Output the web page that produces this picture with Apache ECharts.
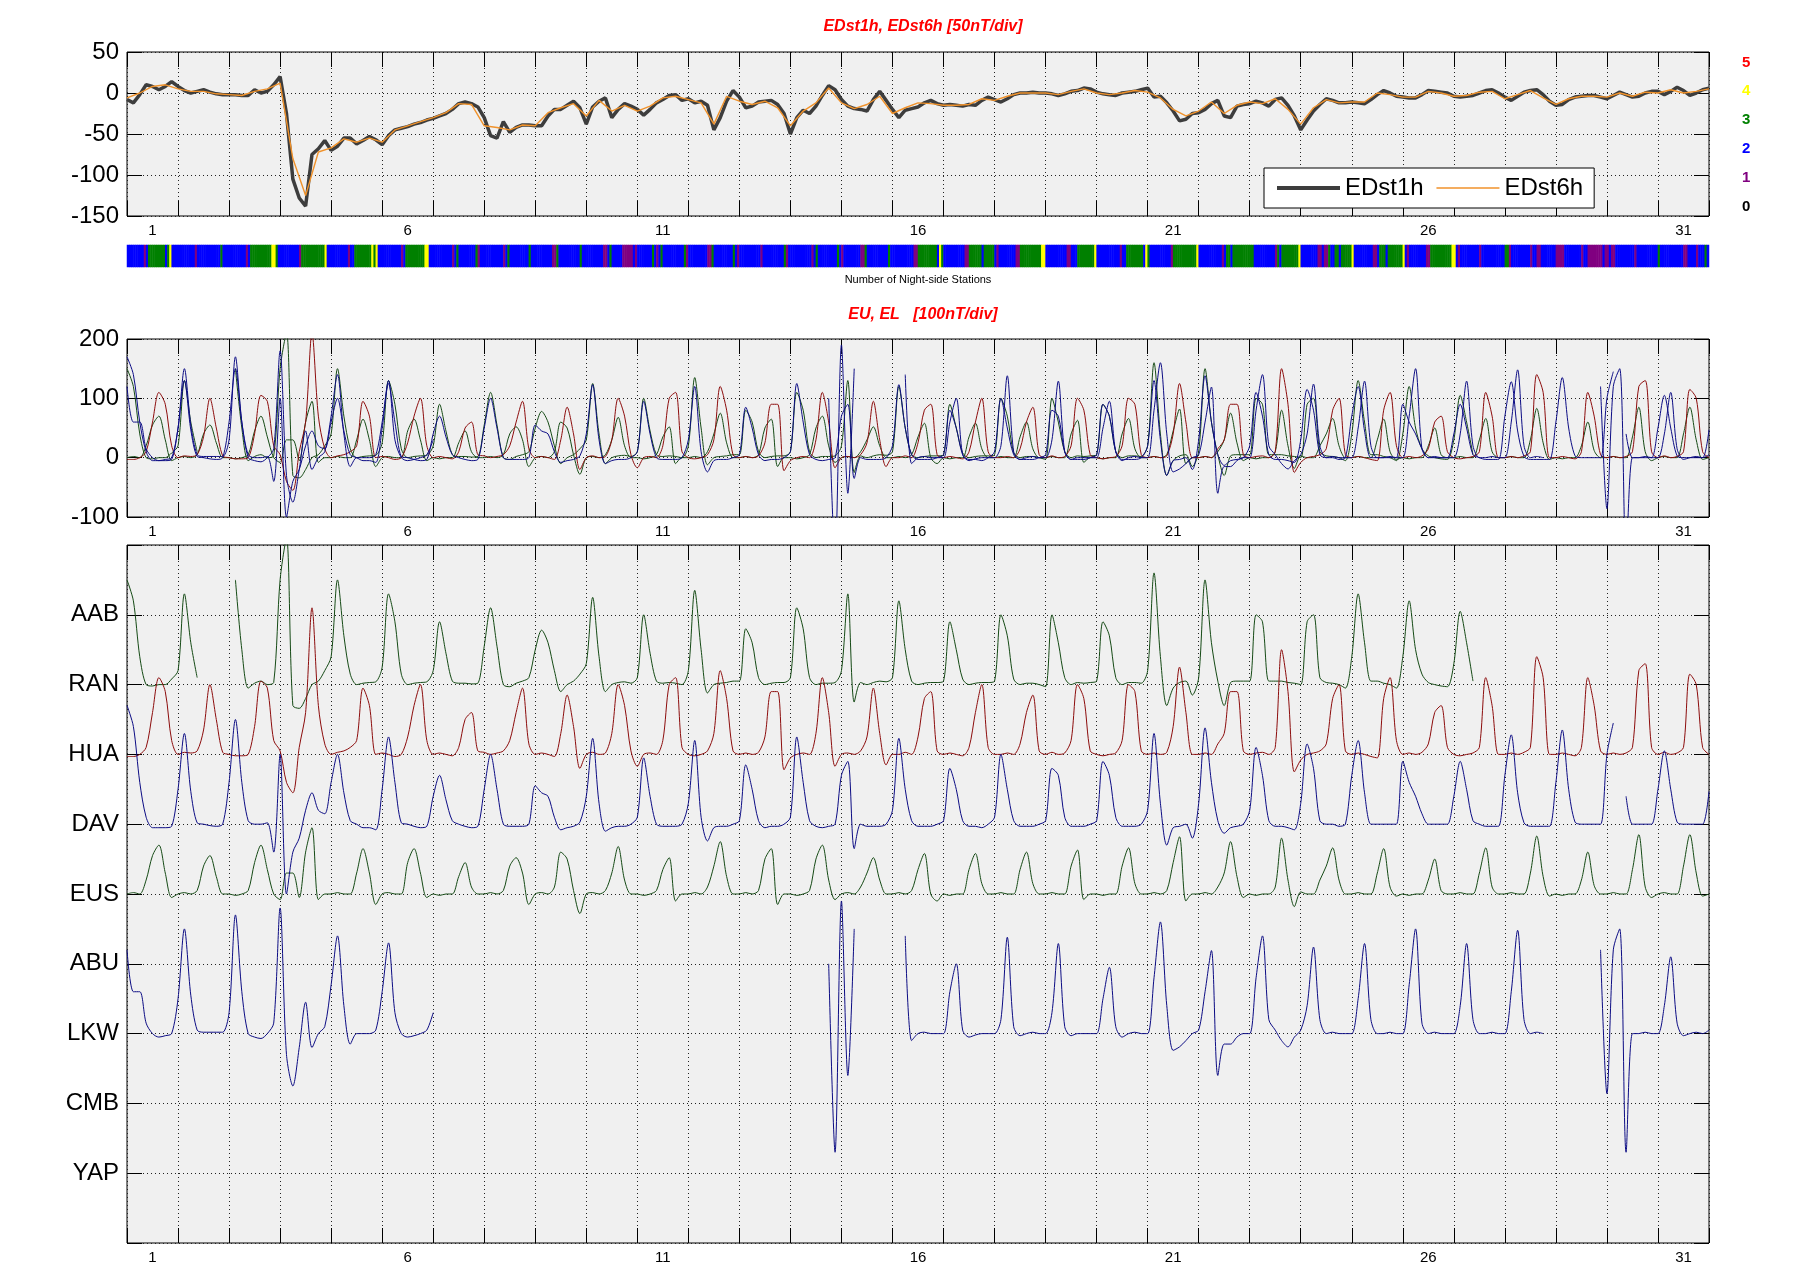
<!DOCTYPE html>
<html>
<head>
<meta charset="utf-8" />
<title>EDst / EU EL</title>
<script type="text/javascript" src="https://cdn.jsdelivr.net/npm/echarts@6/dist/echarts.min.js"></script>
<style>
html, body { margin: 0; padding: 0; background: #fff; }
#chartmain { width: 1801px; height: 1268px; }
</style>
</head>
<body>
<div id="chartmain"></div>
<script type="text/javascript">
// tick labels
var dayLabels = ['1','2','3','4','5','6','7','8','9','10','11','12','13','14','15','16',
  '17','18','19','20','21','22','23','24','25','26','27','28','29','30','31'];
var stationLabels = ['YAP', 'CMB', 'LKW', 'ABU', 'EUS', 'DAV', 'HUA', 'RAN', 'AAB']; // levels 1..9
var countLabels = ['0', '1', '2', '3', '4', '5'];
var countColors = ['#000000', '#800080', '#0000ff', '#008000', '#ffff00', '#ff0000'];

// EDst1h, every 3 hours (8 per day) + end point
var edst1h = [
  -8, -12, -2, 10, 8, 4, 8, 14,
  8, 3, 0, 2, 4, 1, -1, -2,
  -2, -2, -3, -3, 4, 0, 2, 10,
  20, -25, -105, -128, -138, -75, -68, -58,
  -70, -65, -55, -55, -62, -58, -53, -57,
  -63, -52, -45, -43, -41, -38, -36, -33,
  -31, -28, -25, -20, -13, -11, -13, -17,
  -30, -52, -55, -35, -48, -42, -39, -39,
  -40, -40, -28, -20, -20, -15, -10, -18,
  -38, -17, -10, -6, -30, -20, -13, -16,
  -20, -27, -20, -12, -8, -3, -2, -9,
  -7, -12, -10, -15, -45, -30, -10, 3,
  -5, -18, -16, -11, -10, -9, -14, -25,
  -50, -30, -21, -25, -16, -3, 9, 4,
  -8, -16, -19, -20, -22, -8, 2, -9,
  -20, -30, -21, -19, -17, -12, -9, -13,
  -15, -14, -15, -16, -14, -15, -9, -5,
  -8, -11, -7, -2, 0, 0, 1, 0,
  0, -1, -3, -1, 2, 3, 6, 5,
  1, -1, -2, -3, 0, 1, 2, 4,
  6, -5, -4, -12, -22, -34, -32, -25,
  -24, -20, -13, -9, -28, -30, -16, -14,
  -13, -10, -12, -16, -8, -6, -15, -28,
  -45, -33, -22, -14, -7, -9, -12, -12,
  -11, -12, -13, -8, -2, 3, 0, -4,
  -5, -6, -6, -2, 3, 2, 1, 0,
  -4, -5, -4, -3, 0, 3, 4, 0,
  -5, -9, -4, 1, 3, 4, -2, -10,
  -15, -14, -8, -5, -4, -3, -3, -5,
  -7, -3, 1, -2, -5, -4, 0, 2,
  2, -2, 2, 7, 3, -3, 0, 4,
  6
];

// EDst6h, every 6 hours (4 per day) + end point
var edst6h = [
  -6, 0, 8, 10,   5, 2, 2, -1,   -2, -3, 2, 5,   12, -80, -125, -72,
  -67, -56, -60, -55,   -60, -45, -40, -35,   -30, -24, -13, -14,   -40, -42, -45, -39,
  -40, -24, -18, -13,   -28, -9, -22, -15,   -22, -16, -6, -4,   -8, -12, -38, -4,
  -10, -14, -10, -18,   -40, -22, -12, 6,   -12, -19, -14, -4,   -25, -18, -12, -13,
  -15, -15, -14, -7,   -9, -4, 0, 0,   0, -2, 2, 5,   0, -2, 0, 3,
  1, -6, -20, -28,   -22, -11, -25, -15,   -11, -13, -7, -20,   -38, -18, -8, -12,
  -11, -11, 0, -2,   -5, -5, 2, 0,   -4, -3, 1, 2,   -7, -2, 3, -6,
  -14, -7, -4, -4,   -5, 0, -4, 1,   0, 4, 0, 2,
  5
];

// number of night-side stations: [startHour, endHour, count]; other hours = nightDefault
var nightDefault = 2;
var nightRuns = [
  [8,9,1],[10,20,3],[18,19,2],[20,21,4],[32,33,1],[44,45,3],[56,57,1],[58,68,3],[68,70,4],[70,71,3],
  [81,82,1],[82,93,3],[93,94,4],[104,105,1],[107,115,3],[115,116,4],[116,117,3],[117,118,4],
  [129,130,1],[131,140,3],[140,142,4],[153,154,1],[155,156,3],[164,165,3],[165,166,1],[177,178,1],
  [179,180,3],[189,190,3],[200,202,1],[202,203,3],[213,214,3],[224,226,1],[227,228,3],[233,238,1],
  [239,240,1],[247,248,3],[249,250,1],[251,252,3],[262,263,3],[263,264,1],[273,275,1],[275,276,3],
  [285,286,3],[287,288,1],[298,299,1],[309,310,3],[310,311,1],[322,323,1],[324,325,3],[334,335,3],
  [336,337,1],[345,347,1],[347,348,3],[358,359,3],[370,372,1],[372,381,3],[382,383,4],[383,384,3],
  [394,396,1],[396,408,3],[402,403,2],[409,410,1],[418,420,1],[420,430,3],[430,432,4],[442,444,1],
  [447,455,3],[455,456,4],[467,468,1],[470,478,3],[479,480,4],[480,481,3],[491,492,1],[492,501,3],
  [501,503,3],[503,504,4],[515,516,1],[517,519,3],[520,530,3],[540,541,1],[541,542,3],[543,551,3],
  [551,552,4],[560,562,1],[563,565,1],[565,566,3],[568,570,3],[571,576,3],[576,577,4],[586,588,1],
  [589,592,3],[593,600,3],[600,601,4],[602,603,1],[611,613,1],[613,623,3],[623,625,4],[626,627,1],
  [636,637,1],[648,650,3],[650,651,1],[660,661,1],[663,665,1],[672,676,1],[684,685,1],[687,694,1],
  [695,697,1],[698,700,1],[709,710,1],[720,721,3],[732,734,1],[738,739,1],[742,743,3]
];

// station traces in nT above their baseline, every 3 hours + end point
var traceAAB = [
  150, 120, 40, 0, -2, 0, 0, 8,
  20, 130, 60, 10, null, null, null, null,
  null, 150, 50, -5, 2, 5, 0, 3,
  150, 210, -30, -34, -20, 0, 5, 20,
  40, 150, 70, 15, 0, 2, 3, 4,
  25, 130, 90, 15, 0, 2, 3, 4,
  20, 90, 45, 5, 2, 2, 1, 2,
  55, 110, 55, 0, -3, 2, 5, 10,
  50, 78, 60, 20, -10, 0, 5, 15,
  30, 125, 40, -10, 0, 3, 4, 2,
  10, 100, 45, 5, 2, 3, 2, 0,
  20, 135, 50, -12, 0, 2, 3, 5,
  5, 80, 60, 10, 0, 2, 3, 3,
  10, 110, 80, 10, 0, 2, 2, 3,
  20, 130, -25, 3, 0, 3, 5, 4,
  10, 120, 50, 5, 0, 2, 3, 3,
  5, 90, 50, 8, 0, 2, 3, 3,
  5, 100, 70, 8, 0, 2, 2, 0,
  -3, 100, 60, 10, 0, 3, 2, 3,
  5, 90, 70, 10, 0, 3, 3, 2,
  20, 160, 40, -30, -5, 3, 5, -15,
  10, 150, 60, 5, -30, 3, 5, 5,
  5, 100, 90, 5, 5, 5, 3, 2,
  0, 90, 100, 10, 3, 2, 0, -5,
  40, 130, 60, 5, 5, 2, 0, -5,
  40, 120, 50, 15, 3, 0, -2, -3,
  30, 105, 60, 5, null, null, null, null,
  null, null, null, null, null, null, null, null,
  null, null, null, null, null, null, null, null,
  null, null, null, null, null, null, null, null,
  null, null, null, null, null, null, null, null,
  null
];
var traceRAN = [
  -3, -3, 0, 10, 60, 110, 90, 20,
  0, 3, 2, 5, 35, 100, 50, 3,
  0, -2, -2, 0, 40, 105, 95, 20,
  5, -40, -55, 10, 60, 210, 70, 15,
  0, 3, 5, 10, 20, 95, 70, 0,
  2, 0, -3, 0, 25, 70, 100, 20,
  0, 2, 0, -2, 10, 50, 60, 5,
  3, 0, 2, 5, 20, 60, 95, 15,
  0, 2, 0, -3, 30, 85, 40, -20,
  0, 3, 0, 2, 30, 100, 70, 5,
  -17, 0, 2, 0, 20, 100, 110, 10,
  0, -2, 0, 5, 30, 120, 80, 5,
  0, 2, 0, 3, 25, 90, 90, -22,
  -5, 0, 2, 0, 30, 110, 60, -17,
  0, 2, 0, 5, 25, 95, 30, -15,
  0, 0, 3, 0, 25, 80, 90, 5,
  0, 2, 0, -2, 10, 60, 100, 10,
  0, 0, 2, 0, 15, 60, 85, 5,
  0, 3, 0, 2, 20, 100, 80, 5,
  0, -2, 0, 2, 20, 100, 90, 5,
  0, 2, 0, 3, 40, 125, 60, 0,
  0, 2, 0, 15, 30, 90, 90, 5,
  0, 2, 3, 0, 10, 150, 90, -25,
  -8, 0, 2, 5, 15, 80, 100, 5,
  0, 2, 0, -3, -5, 80, 110, 20,
  0, 2, 0, 3, 15, 60, 70, 10,
  0, -2, 0, 2, 10, 110, 70, 0,
  0, 2, 0, 3, 10, 140, 110, 0,
  0, 2, 0, -2, 10, 110, 70, 5,
  0, 2, 0, 2, 10, 120, 130, 10,
  0, 3, 0, 2, 10, 115, 100, 10,
  0
];
var traceHUA = [
  170, 140, 60, 10, -5, -5, -5, -3,
  50, 130, 47, 2, 0, -2, -3, 0,
  60, 150, 60, 5, 0, 0, 2, -40,
  100, -100, -40, -20, 20, 45, 20, 15,
  60, 100, 45, 5, 0, -5, -5, -8,
  50, 125, 60, 2, 0, -3, -5, -3,
  40, 70, 35, 5, 0, -3, -5, -3,
  50, 100, 50, 0, -3, -3, -3, 0,
  55, 45, 40, 10, -8, -5, -3, 3,
  40, 123, 30, -10, -5, -3, -3, 0,
  10, 95, 40, 0, -3, -3, -3, 0,
  30, 120, 10, -24, -5, -3, -3, 0,
  5, 85, 50, 5, -5, -3, -3, 0,
  10, 125, 60, 5, -3, -5, -3, 0,
  70, 90, -35, 0, -3, -3, -3, 0,
  20, 123, 50, 5, -3, -3, -3, 0,
  5, 80, 50, 5, -3, -3, -5, 0,
  10, 100, 50, 5, -3, -3, -3, 0,
  5, 80, 70, 10, -3, -3, -3, 0,
  5, 90, 70, 10, -3, -3, -3, 0,
  20, 130, 30, -30, -5, -3, 0, -20,
  30, 138, 60, 5, -13, -5, -3, 0,
  20, 110, 70, 5, -3, -3, -5, -8,
  30, 115, 80, 5, 0, 0, -3, 0,
  70, 120, 45, 0, 0, 0, 0, 0,
  90, 60, 40, 15, 0, 0, 0, 0,
  40, 90, 50, 5, 0, -3, -3, -3,
  70, 128, 45, 2, -3, -3, -3, -3,
  60, 135, 50, 3, 0, 0, 0, 0,
  100, 145, null, 40, 0, 0, 0, 0,
  50, 105, 50, 3, 0, 0, 0, 0,
  47
];
var traceDAV = [
  0, 2, 0, 20, 55, 70, 30, -5,
  0, 2, 0, 5, 40, 55, 25, 0,
  0, -2, 0, 5, 45, 70, 35, 0,
  -8, 30, 30, -5, 60, 95, -8, 0,
  0, 2, 0, 0, 30, 65, 30, -15,
  0, 2, 0, 0, 45, 65, 30, -5,
  0, -2, 0, 0, 25, 45, 10, 0,
  0, 2, 0, 5, 40, 52, 30, -15,
  0, 2, 0, 10, 60, 50, 5, -28,
  0, 2, 0, 5, 30, 68, 20, 0,
  0, -2, 0, 5, 35, 52, -10, 0,
  0, 2, 0, 10, 40, 75, 25, 0,
  0, 2, 0, 5, 50, 65, -15, 0,
  0, -2, 0, 5, 50, 70, 20, -8,
  0, 2, 0, 10, 30, 52, 20, 0,
  0, 2, 0, 5, 35, 58, 0, -10,
  0, -2, 0, 0, 35, 58, 15, 0,
  0, 2, 0, 0, 35, 60, 15, 0,
  0, 2, 0, 0, 40, 63, -8, 0,
  0, -2, 0, 0, 40, 66, 15, 0,
  0, 2, 0, 5, 45, 82, -10, 0,
  0, 2, 0, 10, 30, 75, 25, -5,
  0, -2, 0, 0, 10, 80, 20, -18,
  3, 0, 0, 20, 40, 66, 20, 0,
  0, 2, 0, 0, 30, 65, 10, -3,
  0, -2, 0, 0, 20, 50, 5, 0,
  0, 2, 0, 0, 30, 66, 10, 0,
  0, 2, 0, 0, 30, 83, 25, -3,
  0, -2, 0, 0, 20, 60, 12, 0,
  0, 2, 0, 0, 35, 85, 10, -5,
  0, 2, 0, 0, 40, 85, 30, -3,
  0
];
var traceLKW = [
  120, 60, 60, 15, 0, -5, -3, 0,
  50, 150, 55, 5, 2, 2, 2, 2,
  30, 170, 60, 0, -5, -7, 0, 15,
  180, -30, -75, -20, 45, -20, 0, 10,
  70, 140, 40, -15, 0, 0, 0, 5,
  60, 130, 30, 0, -5, -3, 0, 5,
  30, null, null, null, null, null, null, null,
  null, null, null, null, null, null, null, null,
  null, null, null, null, null, null, null, null,
  null, null, null, null, null, null, null, null,
  null, null, null, null, null, null, null, null,
  null, null, null, null, null, null, null, null,
  null, null, null, null, null, null, null, null,
  null, null, null, null, null, null, 100, -170,
  190, -60, 150, null, null, null, null, null,
  null, null, 140, -10, 0, 2, 0, 0,
  0, 60, 100, 5, -5, -2, 0, 0,
  0, 20, 138, 10, -3, 0, 2, 0,
  0, 30, 129, 10, -3, 0, 0, 0,
  0, 50, 95, 10, -5, 0, 2, 0,
  0, 80, 160, 40, -24, -19, -10, 0,
  5, 60, 119, -60, -15, -15, -5, 0,
  0, 80, 140, 20, 5, -10, -19, -5,
  5, 40, 124, 20, 0, 2, 0, 0,
  0, 50, 129, 20, 0, 0, 2, 0,
  0, 70, 150, 15, 0, 2, 0, 0,
  0, 40, 129, 20, 0, 0, 2, 0,
  0, 60, 148, 20, 0, 2, 0, null,
  null, null, null, null, null, null, null, 120,
  -86, 120, 150, -170, 0, 0, 2, 0,
  0, 40, 110, 15, -3, 0, 2, 0,
  5
];

// ---- tables built from the arrays above ----
function pairs(values, perDay) {
  return values.map(function (v, i) { return [i / perDay, v === null ? '-' : v]; });
}
function stacked(values, base) {
  return values.map(function (v, i) { return [i / 8, v === null ? '-' : base + v / 100]; });
}
var nightCount = [];
for (var h = 0; h < 744; h++) nightCount.push(nightDefault);
nightRuns.forEach(function (r) {
  for (var k = r[0]; k < r[1]; k++) nightCount[k] = r[2];
});
var hourCats = nightCount.map(function (c, i) { return String(i); });
var heatData = nightCount.map(function (c, i) { return [i, 0, c]; });

var green = '#154a15', red = '#8c0c0c', blue = '#0c0c84';
var traces = [
  { name: 'DAV', data: traceDAV, base: 5, color: green },
  { name: 'AAB', data: traceAAB, base: 8, color: green },
  { name: 'RAN', data: traceRAN, base: 7, color: red },
  { name: 'HUA', data: traceHUA, base: 6, color: blue },
  { name: 'LKW', data: traceLKW, base: 3, color: blue }
];

var font = 'Liberation Sans, Arial, Helvetica, sans-serif';
var gridBox = { show: true, backgroundColor: '#f0f0f0', borderColor: '#000', borderWidth: 1 };
var L = 127, W = 1582;

function dayAxis(grid, pos, split) {
  return {
    type: 'value', gridIndex: grid, position: pos, min: 0, max: 31, interval: 1,
    axisLine: { show: false, onZero: false },
    axisTick: { show: true, inside: true, length: 15, lineStyle: { color: '#000' } },
    axisLabel: { show: false },
    splitLine: { show: split, lineStyle: { color: '#222', type: [1, 3] } }
  };
}
function labelAxis(grid) {
  return {
    type: 'category', gridIndex: grid, position: 'bottom', data: dayLabels, boundaryGap: true,
    axisLine: { show: false, onZero: false }, axisTick: { show: false }, splitLine: { show: false },
    axisLabel: { interval: 4, fontSize: 15, color: '#000', margin: 7, fontFamily: font }
  };
}
function valAxis(grid, pos, min, max, step, labels, fmt) {
  return {
    type: 'value', gridIndex: grid, position: pos, min: min, max: max, interval: step,
    axisLine: { show: false, onZero: false },
    axisTick: { show: true, inside: true, length: 15, lineStyle: { color: '#000' } },
    axisLabel: { show: labels, fontSize: 24, color: '#000', margin: 8, fontFamily: font, formatter: fmt },
    splitLine: { show: labels, lineStyle: { color: '#222', type: [1, 3] } }
  };
}

var series = [
  { name: 'EDst1h', type: 'line', xAxisIndex: 0, yAxisIndex: 0, data: pairs(edst1h, 8),
    symbol: 'none', lineStyle: { color: '#3d3d3d', width: 3.5 }, itemStyle: { color: '#3d3d3d' } },
  { name: 'EDst6h', type: 'line', xAxisIndex: 0, yAxisIndex: 0, data: pairs(edst6h, 4),
    symbol: 'none', lineStyle: { color: '#f0922b', width: 1.4 }, itemStyle: { color: '#f0922b' } },
  { name: 'stations', type: 'heatmap', xAxisIndex: 3, yAxisIndex: 2, data: heatData }
];
traces.forEach(function (t) {
  series.push({ name: t.name + ' EU', type: 'line', xAxisIndex: 4, yAxisIndex: 3,
    data: pairs(t.data, 8), symbol: 'none', smooth: 0.3, lineStyle: { color: t.color, width: 1 } });
});
traces.forEach(function (t) {
  series.push({ name: t.name, type: 'line', xAxisIndex: 7, yAxisIndex: 5,
    data: stacked(t.data, t.base), symbol: 'none', smooth: 0.3, lineStyle: { color: t.color, width: 1 } });
});

var countRich = {};
countColors.forEach(function (c, i) {
  countRich['c' + i] = { color: c, fontWeight: 'bold', fontSize: 15, fontFamily: font };
});

var option = {
  animation: false,
  backgroundColor: '#fff',
  textStyle: { fontFamily: font },
  title: [
    { text: 'EDst1h, EDst6h [50nT/div]', left: L + W / 2, top: 14, textAlign: 'center',
      textStyle: { color: '#ff0000', fontStyle: 'italic', fontWeight: 'bold', fontSize: 16, fontFamily: font } },
    { text: 'EU, EL   [100nT/div]', left: L + W / 2, top: 302, textAlign: 'center',
      textStyle: { color: '#ff0000', fontStyle: 'italic', fontWeight: 'bold', fontSize: 16, fontFamily: font } }
  ],
  legend: {
    data: [
      { name: 'EDst1h', lineStyle: { width: 4 } },
      { name: 'EDst6h', lineStyle: { width: 1.5 } }
    ],
    left: 1264, top: 168, orient: 'horizontal',
    itemWidth: 63, itemHeight: 14, itemGap: 12, padding: [8, 11],
    itemStyle: { opacity: 0 },
    backgroundColor: '#fff', borderColor: '#000', borderWidth: 1,
    textStyle: { fontSize: 24, color: '#000', fontFamily: font }
  },
  visualMap: {
    type: 'piecewise', show: false, seriesIndex: 2, dimension: 2,
    pieces: countColors.map(function (c, i) { return { value: i, color: c }; })
  },
  grid: [
    Object.assign({ left: L, top: 52, width: W, height: 164 }, gridBox),
    { left: L, top: 245, width: W, height: 22, show: false },
    Object.assign({ left: L, top: 339, width: W, height: 178 }, gridBox),
    Object.assign({ left: L, top: 545, width: W, height: 698 }, gridBox),
    { left: L + W, top: 48, width: 1, height: 173, show: false }
  ],
  xAxis: [
    dayAxis(0, 'bottom', true), dayAxis(0, 'top', false), labelAxis(0),
    { type: 'category', gridIndex: 1, data: hourCats, axisLine: { show: false }, axisTick: { show: false },
      axisLabel: { show: false }, splitLine: { show: false },
      name: 'Number of Night-side Stations', nameLocation: 'middle', nameGap: 7,
      nameTextStyle: { fontSize: 11, color: '#000', fontFamily: font } },
    dayAxis(2, 'bottom', true), dayAxis(2, 'top', false), labelAxis(2),
    dayAxis(3, 'bottom', true), dayAxis(3, 'top', false), labelAxis(3),
    { type: 'value', gridIndex: 4, show: false }
  ],
  yAxis: [
    valAxis(0, 'left', -150, 50, 50, true),
    valAxis(0, 'right', -150, 50, 50, false),
    { type: 'category', gridIndex: 1, data: ['n'], show: false },
    valAxis(2, 'left', -100, 200, 100, true),
    valAxis(2, 'right', -100, 200, 100, false),
    valAxis(3, 'left', 0, 10, 1, true, function (v) { return stationLabels[v - 1] || ''; }),
    valAxis(3, 'right', 0, 10, 1, false),
    { type: 'category', gridIndex: 4, position: 'right', data: countLabels,
      axisLine: { show: false }, axisTick: { show: false }, splitLine: { show: false },
      axisLabel: { margin: 32, formatter: function (v, i) { return '{c' + i + '|' + v + '}'; }, rich: countRich } }
  ],
  series: series
};

var myChart = echarts.init(document.getElementById('chartmain'));
myChart.setOption(option);
</script>
</body>
</html>
